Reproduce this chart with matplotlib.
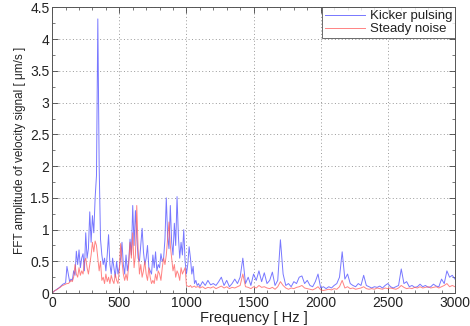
import numpy as np
import matplotlib
matplotlib.use("Agg")
import matplotlib.pyplot as plt
from matplotlib.ticker import MultipleLocator

plt.rcParams['font.family'] = ['Liberation Sans', 'DejaVu Sans']

# FFT amplitudes, 10 Hz bins up to 1090 Hz, then 20 Hz bins from 1100 Hz
kicker_low = [0.00, 0.02, 0.04, 0.05, 0.07, 0.08, 0.10, 0.12, 0.14, 0.15,
              0.16, 0.42, 0.30, 0.18, 0.22, 0.20, 0.35, 0.28, 0.66, 0.45,
              0.68, 0.40, 0.55, 0.62, 0.35, 0.95, 0.55, 0.70, 1.28, 0.80,
              1.22, 0.95, 1.50, 1.85, 4.32, 2.00, 0.85, 0.60, 0.45, 0.55,
              0.35, 0.60, 0.92, 0.45, 0.30, 0.55, 0.40, 0.25, 0.50, 0.30,
              0.40, 0.55, 0.80, 0.45, 0.30, 0.60, 0.35, 0.50, 0.85, 0.60,
              1.38, 0.75, 1.30, 0.90, 0.55, 0.50, 0.75, 1.02, 0.65, 0.45,
              0.55, 0.75, 0.40, 0.35, 0.30, 0.60, 0.40, 0.65, 0.35, 0.45,
              0.40, 0.62, 0.50, 0.55, 0.85, 1.50, 0.90, 0.70, 1.38, 0.80,
              0.60, 1.10, 0.75, 1.52, 0.90, 0.55, 0.80, 0.60, 1.00, 0.50,
              0.30, 0.45, 0.73, 0.55, 0.30, 0.42, 0.15, 0.20, 0.12, 0.15]
noise_low = [0.00, 0.02, 0.04, 0.05, 0.06, 0.08, 0.09, 0.11, 0.12, 0.13,
             0.14, 0.15, 0.15, 0.17, 0.20, 0.18, 0.25, 0.45, 0.30, 0.25,
             0.40, 0.28, 0.35, 0.30, 0.50, 0.55, 0.40, 0.30, 0.45, 0.60,
             0.80, 0.65, 0.82, 0.75, 0.55, 0.35, 0.50, 0.20, 0.25, 0.15,
             0.30, 0.18, 0.25, 0.15, 0.28, 0.20, 0.15, 0.30, 0.20, 0.15,
             0.35, 0.78, 0.50, 0.30, 0.20, 0.30, 0.20, 0.45, 0.80, 0.55,
             0.95, 0.40, 0.60, 1.38, 0.70, 0.30, 0.45, 0.25, 0.35, 0.50,
             0.30, 0.20, 0.40, 0.25, 0.15, 0.20, 0.15, 0.30, 0.20, 0.35,
             0.30, 0.20, 0.40, 0.55, 0.45, 0.60, 0.85, 1.12, 0.75, 0.55,
             0.35, 0.45, 0.25, 0.35, 0.30, 0.20, 0.40, 0.30, 0.35, 0.40,
             0.12, 0.11, 0.10, 0.12, 0.09, 0.10, 0.11, 0.09, 0.10, 0.10]
kicker_high = [0.10, 0.18, 0.12, 0.20, 0.13, 0.15, 0.12, 0.18, 0.25, 0.12,
               0.20, 0.10, 0.15, 0.22, 0.15, 0.25, 0.55, 0.15, 0.25, 0.12,
               0.30, 0.20, 0.35, 0.18, 0.32, 0.15, 0.20, 0.33, 0.12, 0.20,
               0.84, 0.30, 0.12, 0.15, 0.10, 0.18, 0.15, 0.25, 0.27, 0.15,
               0.20, 0.12, 0.10, 0.18, 0.30, 0.08, 0.10, 0.07, 0.10, 0.08,
               0.12, 0.15, 0.25, 0.65, 0.22, 0.30, 0.15, 0.12, 0.10, 0.15,
               0.12, 0.28, 0.12, 0.10, 0.08, 0.10, 0.09, 0.11, 0.08, 0.12,
               0.15, 0.10, 0.08, 0.10, 0.12, 0.38, 0.15, 0.18, 0.10, 0.12,
               0.09, 0.10, 0.14, 0.10, 0.12, 0.09, 0.10, 0.14, 0.11, 0.10,
               0.22, 0.15, 0.35, 0.25, 0.28, 0.22]
noise_high = [0.08, 0.10, 0.07, 0.09, 0.08, 0.10, 0.07, 0.09, 0.11, 0.08,
              0.10, 0.07, 0.09, 0.08, 0.10, 0.12, 0.30, 0.10, 0.09, 0.07,
              0.10, 0.08, 0.12, 0.09, 0.10, 0.08, 0.07, 0.09, 0.06, 0.10,
              0.18, 0.12, 0.08, 0.06, 0.08, 0.07, 0.09, 0.10, 0.12, 0.08,
              0.07, 0.06, 0.05, 0.07, 0.10, 0.05, 0.04, 0.05, 0.06, 0.05,
              0.07, 0.06, 0.10, 0.20, 0.08, 0.10, 0.07, 0.08, 0.06, 0.07,
              0.08, 0.10, 0.07, 0.06, 0.07, 0.06, 0.08, 0.07, 0.06, 0.08,
              0.07, 0.08, 0.07, 0.06, 0.08, 0.12, 0.09, 0.07, 0.08, 0.07,
              0.09, 0.08, 0.10, 0.08, 0.09, 0.10, 0.08, 0.09, 0.10, 0.08,
              0.10, 0.12, 0.15, 0.10, 0.12, 0.10]


def freqs(low, high):
    f_low = 10 * np.arange(len(low))
    f_high = 1100 + 20 * np.arange(len(high))
    return np.concatenate([f_low, f_high]), np.array(low + high)


fk, ak = freqs(kicker_low, kicker_high)
fn, an = freqs(noise_low, noise_high)

fig = plt.figure(figsize=(4.7, 3.26), dpi=100)
ax = fig.add_axes([0.111, 0.101, 0.857, 0.876])

ax.plot(fk, ak, color='#6060ff', lw=0.7, alpha=0.85, label='Kicker pulsing')
ax.plot(fn, an, color='#ff5a5a', lw=0.7, alpha=0.75, label='Steady noise')

ax.set_xlim(0, 3000)
ax.set_ylim(0, 4.5)
ax.xaxis.set_major_locator(MultipleLocator(500))
ax.xaxis.set_minor_locator(MultipleLocator(100))
ax.yaxis.set_minor_locator(MultipleLocator(0.25))
ax.set_yticks(np.arange(0, 4.51, 0.5))
ax.set_yticklabels(['0', '0.5', '1', '1.5', '2', '2.5', '3', '3.5', '4', '4.5'])
ax.tick_params(which='both', direction='in', top=True, right=True,
               colors='#444444', labelcolor='#222222', labelsize=10, pad=2)
ax.tick_params(which='major', length=4, width=0.6)
ax.tick_params(which='minor', length=2.5, width=0.5)
ax.grid(True, which='major', linestyle=(0, (1, 2.5)), color='#999999', lw=0.7)
for s in ax.spines.values():
    s.set_color('#555555')
    s.set_linewidth(0.7)

ax.set_xlabel('Frequency [ Hz ]', fontsize=10.5, color='#222222', labelpad=1)
ax.set_ylabel('FFT amplitude of velocity signal [ \u03bcm/s ]', fontsize=8.5,
              color='#222222', labelpad=3)

leg = ax.legend(loc='upper right', fontsize=9.5, frameon=True, fancybox=False,
                borderaxespad=0.0, borderpad=0.2, handlelength=3.0,
                handletextpad=0.4, labelspacing=0.05)
leg.get_frame().set_edgecolor('#444444')
leg.get_frame().set_linewidth(0.7)
for t in leg.get_texts():
    t.set_color('#222222')

fig.savefig('out.png', dpi=100)
